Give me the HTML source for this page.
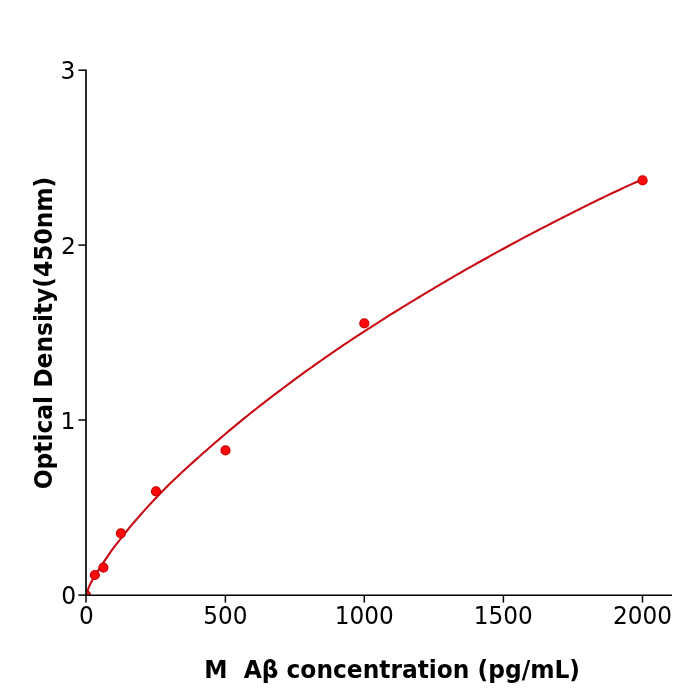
<!DOCTYPE html>
<html><head><meta charset="utf-8"><title>Standard curve</title>
<style>
html,body{margin:0;padding:0;background:#fff;}
body{width:700px;height:700px;overflow:hidden;}
svg{display:block;}
text{font-family:"DejaVu Sans","Liberation Sans",sans-serif;fill:#000;}
.tick text{font-size:23.2px;}
.lab{font-size:23.35px;font-weight:bold;}
</style></head><body>
<svg width="700" height="700" viewBox="0 0 700 700">
<rect width="700" height="700" fill="#fff"/>
<defs><clipPath id="ax"><rect x="86" y="70.2" width="585.9" height="524.6"/></clipPath></defs>
<g clip-path="url(#ax)">
<path d="M86.00,595.10 L86.48,594.16 L86.96,592.52 L87.44,591.05 L87.92,589.68 L88.40,588.40 L88.88,587.19 L89.36,586.06 L89.84,584.99 L90.32,583.98 L90.80,583.02 L91.28,582.08 L91.76,581.18 L92.24,580.31 L92.72,579.46 L93.20,578.62 L93.68,577.80 L94.16,577.00 L94.64,576.21 L95.12,575.42 L95.59,574.64 L96.07,573.86 L96.55,573.09 L97.03,572.31 L97.51,571.53 L97.99,570.76 L98.47,570.00 L98.95,569.24 L99.43,568.49 L99.91,567.75 L102.64,563.60 L105.37,559.54 L108.09,555.58 L110.82,551.73 L113.55,547.99 L116.27,544.34 L119.00,540.78 L121.73,537.28 L124.45,533.86 L127.18,530.49 L129.90,527.19 L132.63,523.94 L135.36,520.74 L138.08,517.59 L140.81,514.48 L143.54,511.42 L146.26,508.40 L148.99,505.41 L151.72,502.46 L154.44,499.55 L157.17,496.67 L159.90,493.82 L162.62,491.00 L165.35,488.22 L168.08,485.50 L170.80,482.84 L173.53,480.22 L176.26,477.65 L178.98,475.11 L181.71,472.59 L184.44,470.09 L187.16,467.60 L189.89,465.10 L192.62,462.61 L195.34,460.14 L198.07,457.69 L200.80,455.26 L203.52,452.84 L206.25,450.44 L208.98,448.05 L211.70,445.68 L214.43,443.31 L217.16,440.96 L219.88,438.62 L222.61,436.29 L225.33,433.97 L228.06,431.67 L230.79,429.39 L233.51,427.11 L236.24,424.86 L238.97,422.61 L241.69,420.39 L244.42,418.17 L247.15,415.97 L249.87,413.78 L252.60,411.61 L255.33,409.45 L258.05,407.30 L260.78,405.17 L263.51,403.05 L266.23,400.94 L268.96,398.84 L271.69,396.75 L274.41,394.68 L277.14,392.61 L279.87,390.56 L282.59,388.51 L285.32,386.48 L288.05,384.45 L290.77,382.43 L293.50,380.41 L296.23,378.40 L298.95,376.40 L301.68,374.41 L304.41,372.42 L307.13,370.45 L309.86,368.49 L312.58,366.53 L315.31,364.59 L318.04,362.66 L320.76,360.74 L323.49,358.83 L326.22,356.93 L328.94,355.04 L331.67,353.16 L334.40,351.29 L337.12,349.43 L339.85,347.57 L342.58,345.73 L345.30,343.89 L348.03,342.07 L350.76,340.25 L353.48,338.44 L356.21,336.65 L358.94,334.86 L361.66,333.07 L364.39,331.30 L367.12,329.53 L369.84,327.77 L372.57,326.02 L375.30,324.28 L378.02,322.54 L380.75,320.81 L383.48,319.09 L386.20,317.37 L388.93,315.66 L391.66,313.96 L394.38,312.26 L397.11,310.57 L399.84,308.88 L402.56,307.20 L405.29,305.53 L408.01,303.86 L410.74,302.19 L413.47,300.53 L416.19,298.88 L418.92,297.23 L421.65,295.59 L424.37,293.95 L427.10,292.32 L429.83,290.69 L432.55,289.06 L435.28,287.44 L438.01,285.82 L440.73,284.20 L443.46,282.59 L446.19,280.99 L448.91,279.39 L451.64,277.80 L454.37,276.21 L457.09,274.63 L459.82,273.06 L462.55,271.50 L465.27,269.94 L468.00,268.39 L470.73,266.85 L473.45,265.31 L476.18,263.78 L478.91,262.26 L481.63,260.73 L484.36,259.22 L487.09,257.71 L489.81,256.20 L492.54,254.69 L495.27,253.19 L497.99,251.70 L500.72,250.20 L503.44,248.71 L506.17,247.22 L508.90,245.73 L511.62,244.25 L514.35,242.78 L517.08,241.31 L519.80,239.84 L522.53,238.39 L525.26,236.94 L527.98,235.49 L530.71,234.06 L533.44,232.63 L536.16,231.21 L538.89,229.80 L541.62,228.39 L544.34,226.98 L547.07,225.58 L549.80,224.19 L552.52,222.79 L555.25,221.41 L557.98,220.02 L560.70,218.64 L563.43,217.26 L566.16,215.88 L568.88,214.50 L571.61,213.12 L574.34,211.74 L577.06,210.37 L579.79,208.99 L582.52,207.62 L585.24,206.25 L587.97,204.89 L590.70,203.53 L593.42,202.19 L596.15,200.85 L598.87,199.52 L601.60,198.21 L604.33,196.90 L607.05,195.60 L609.78,194.31 L612.51,193.02 L615.23,191.73 L617.96,190.45 L620.69,189.18 L623.41,187.92 L626.14,186.66 L628.87,185.41 L631.59,184.16 L634.32,182.92 L637.05,181.69 L639.77,180.47 L642.50,179.25" fill="none" stroke="#c80a14" stroke-width="2.1" stroke-linejoin="round"/>
<g fill="#fa0a0a" stroke="#c80000" stroke-width="1.2">
<circle cx="86.0" cy="595.1" r="4.5" fill="#d41420"/>
<circle cx="94.86" cy="575.0" r="4.5"/>
<circle cx="103.4" cy="567.6" r="4.5"/>
<circle cx="120.9" cy="533.3" r="4.5"/>
<circle cx="156.0" cy="491.3" r="4.5"/>
<circle cx="225.5" cy="450.4" r="4.5"/>
<circle cx="364.3" cy="323.4" r="4.5"/>
<circle cx="642.6" cy="180.4" r="4.5"/>
</g>
</g>
<g stroke="#000" stroke-width="1.5" stroke-linecap="butt">
<line x1="86" y1="69.5" x2="86" y2="595.95" stroke-width="1.75" stroke="#0a0a0a"/>
<line x1="85.1" y1="595.2" x2="671.9" y2="595.2" stroke-width="1.5"/>
</g>
<g stroke="#000" stroke-width="1.5">
<line x1="86.0" y1="595.1" x2="86.0" y2="602.6"/>
<line x1="225.4" y1="595.1" x2="225.4" y2="602.6"/>
<line x1="364.3" y1="595.1" x2="364.3" y2="602.6"/>
<line x1="503.4" y1="595.1" x2="503.4" y2="602.6"/>
<line x1="642.5" y1="595.1" x2="642.5" y2="602.6"/>
<line x1="78.4" y1="595.1" x2="86" y2="595.1"/>
<line x1="78.4" y1="420.0" x2="86" y2="420.0"/>
<line x1="78.4" y1="245.1" x2="86" y2="245.1"/>
<line x1="78.4" y1="70.2" x2="86" y2="70.2"/>
</g>
<g class="tick">
<text transform="translate(86.3,624.0) scale(1.0,1.05)" text-anchor="middle">0</text>
<text transform="translate(225.3,624.0) scale(1.0,1.05)" text-anchor="middle">500</text>
<text transform="translate(364.2,624.0) scale(1.0,1.05)" text-anchor="middle">1000</text>
<text transform="translate(503.3,624.0) scale(1.0,1.05)" text-anchor="middle">1500</text>
<text transform="translate(642.4,624.0) scale(1.0,1.05)" text-anchor="middle">2000</text>
<text transform="translate(76.1,604.30) scale(1.01,1.05)" text-anchor="end">0</text>
<text transform="translate(75.4,429.35) scale(1.01,1.0)" text-anchor="end">1</text>
<text transform="translate(75.9,254.45) scale(1.01,1.015)" text-anchor="end">2</text>
<text transform="translate(75.5,79.40) scale(1.01,1.05)" text-anchor="end">3</text>
</g>
<text class="lab" transform="translate(392.1,678.0) scale(1,1.03)" text-anchor="middle" xml:space="preserve" style="white-space:pre">M  Aβ concentration (pg/mL)</text>
<text class="lab" transform="translate(52.3,333.0) rotate(-90) scale(1,1.04)" text-anchor="middle">Optical Density(450nm)</text>
</svg>
</body></html>
